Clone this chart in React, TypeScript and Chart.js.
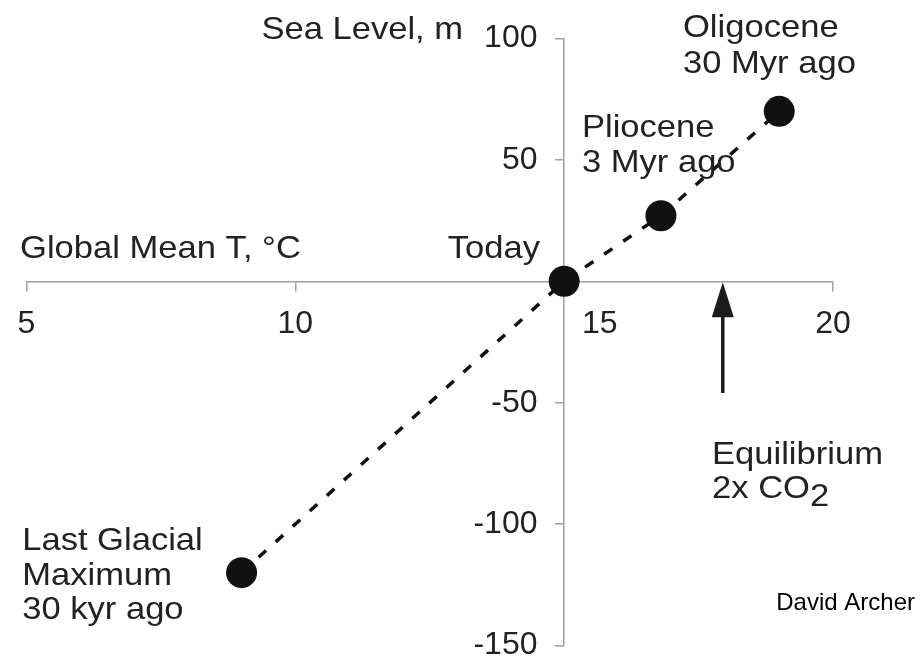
import React, { useEffect, useRef } from 'react';
import { Chart, registerables } from 'chart.js';

Chart.register(...registerables);

// ---- data ----
const temperatures = [9, 15, 16.8, 19]; // Global mean T, °C
const seaLevels = [-120, 0, 27, 70]; // Sea level, m
const xTickValues = [5, 10, 15, 20];
const yTickValues = [100, 50, 0, -50, -100, -150];
const arrowTemperature = 17.95; // equilibrium 2x CO2
const arrowSeaLevels = [0, -46]; // tip, tail

// ---- texts ----
const seaLevelTitle = 'Sea Level, m';
const tempTitle = 'Global Mean T, °C';
const todayLabel = ['Today'];
const plioceneLabel = ['Pliocene', '3 Myr ago'];
const oligoceneLabel = ['Oligocene', '30 Myr ago'];
const lgmLabel = ['Last Glacial', 'Maximum', '30 kyr ago'];
const equilibriumLabel = ['Equilibrium', '2x CO'];
const equilibriumSub = '2';
const creditLabel = 'David Archer';

// ---- layout (anchor positions in data space, first-line baselines) ----
const annotations = [
  { lines: [seaLevelTitle], t: 13.12, sl: 99.8, align: 'right', gap: 0 },
  { lines: [tempTitle], t: 4.88, sl: 9.4, align: 'left', gap: 0 },
  { lines: todayLabel, t: 14.55, sl: 9.4, align: 'right', gap: 0 },
  { lines: plioceneLabel, t: 15.33, sl: 59.3, align: 'left', gap: 35 },
  { lines: oligoceneLabel, t: 17.21, sl: 100.6, align: 'left', gap: 36 },
  { lines: lgmLabel, t: 4.92, sl: -110.8, align: 'left', gap: 34.5 },
  { lines: equilibriumLabel, t: 17.75, sl: -75.2, align: 'left', gap: 34, sub: equilibriumSub },
];

const FONT = "'Liberation Sans', Arial, Helvetica, sans-serif";
const TEXT_COLOR = '#222';
const AXIS_COLOR = '#a0a0a0';
const STRETCH = 1.08;

const overlayPlugin = {
  id: 'overlay',
  afterDatasetsDraw(chart: any) {
    const { ctx, scales } = chart;
    const xs = scales.x;
    const ys = scales.y;
    ctx.save();
    // arrow
    const ax = xs.getPixelForValue(arrowTemperature);
    const tip = ys.getPixelForValue(arrowSeaLevels[0]) + 1;
    const tail = ys.getPixelForValue(arrowSeaLevels[1]);
    const headLen = 35;
    const headHalf = 11;
    ctx.strokeStyle = '#1a1a1a';
    ctx.fillStyle = '#1a1a1a';
    ctx.lineWidth = 3.5;
    ctx.beginPath();
    ctx.moveTo(ax, tip + headLen - 2);
    ctx.lineTo(ax, tail);
    ctx.stroke();
    ctx.beginPath();
    ctx.moveTo(ax, tip);
    ctx.lineTo(ax + headHalf, tip + headLen);
    ctx.lineTo(ax - headHalf, tip + headLen);
    ctx.closePath();
    ctx.fill();

    // annotation texts
    ctx.fillStyle = TEXT_COLOR;
    ctx.textBaseline = 'alphabetic';
    ctx.font = `32px ${FONT}`;
    for (const a of annotations) {
      const px = xs.getPixelForValue(a.t);
      const py = ys.getPixelForValue(a.sl);
      a.lines.forEach((line: string, i: number) => {
        ctx.save();
        ctx.translate(px, py + i * a.gap);
        ctx.scale(STRETCH, 1);
        ctx.textAlign = a.align;
        ctx.fillText(line, 0, 0);
        if (a.sub && i === a.lines.length - 1) {
          const w = ctx.measureText(line).width;
          ctx.textAlign = 'left';
          ctx.fillText(a.sub, w, 8);
        }
        ctx.restore();
      });
    }
    // credit
    ctx.fillStyle = '#000';
    ctx.font = `24px ${FONT}`;
    ctx.textAlign = 'right';
    ctx.fillText(creditLabel, 915, 610);
    ctx.restore();
  },
};

const zeroPadding = (s: any) => {
  s.paddingLeft = 0;
  s.paddingRight = 0;
  s.paddingTop = 0;
  s.paddingBottom = 0;
};

export default function App() {
  const canvasRef = useRef<HTMLCanvasElement | null>(null);

  useEffect(() => {
    const canvas = canvasRef.current;
    if (!canvas) return;
    const points = temperatures.map((t, i) => ({ x: t, y: seaLevels[i] }));
    const chart = new Chart(canvas, {
      type: 'scatter',
      data: {
        datasets: [
          {
            data: points,
            showLine: true,
            borderColor: '#111',
            borderWidth: 3.5,
            borderDash: [10, 13],
            pointRadius: 15.5,
            pointHoverRadius: 15.5,
            pointBackgroundColor: '#111',
            pointBorderWidth: 0,
            pointBorderColor: '#111',
          },
        ],
      },
      options: {
        animation: false,
        responsive: false,
        devicePixelRatio: 1,
        events: [],
        layout: { padding: { left: 26.5, right: 87, top: 38.5, bottom: 11 } },
        plugins: { legend: { display: false }, tooltip: { enabled: false }, title: { display: false } },
        scales: {
          x: {
            type: 'linear',
            min: 5,
            max: 20,
            position: { y: 0 },
            afterBuildTicks: (s: any) => {
              s.ticks = xTickValues.map((v) => ({ value: v }));
            },
            afterFit: zeroPadding,
            grid: { drawOnChartArea: false, drawTicks: true, tickLength: 9, color: AXIS_COLOR, lineWidth: 1.5 },
            border: { display: true, color: AXIS_COLOR, width: 1.5 },
            ticks: {
              color: TEXT_COLOR,
              font: { family: FONT, size: 32 },
              padding: 15,
              maxRotation: 0,
              autoSkip: false,
              callback: (v: any) => (Number(v) === 15 ? '        15' : String(v)),
            },
          },
          y: {
            type: 'linear',
            min: -150,
            max: 100,
            position: { x: 15 },
            afterBuildTicks: (s: any) => {
              s.ticks = yTickValues.map((v) => ({ value: v }));
            },
            afterFit: zeroPadding,
            grid: { drawOnChartArea: false, drawTicks: true, tickLength: 8, color: AXIS_COLOR, lineWidth: 1.5 },
            border: { display: true, color: AXIS_COLOR, width: 1.5 },
            ticks: {
              color: TEXT_COLOR,
              font: { family: FONT, size: 32 },
              padding: 18,
              autoSkip: false,
              callback: (v: any) => (Number(v) === 0 ? '' : `${v}   `),
            },
          },
        },
      } as any,
      plugins: [overlayPlugin],
    });
    return () => chart.destroy();
  }, []);

  return (
    <div style={{ position: 'fixed', left: 0, top: 0, width: 920, height: 661, background: '#fff' }}>
      <canvas ref={canvasRef} width={920} height={661} style={{ display: 'block' }} />
    </div>
  );
}
